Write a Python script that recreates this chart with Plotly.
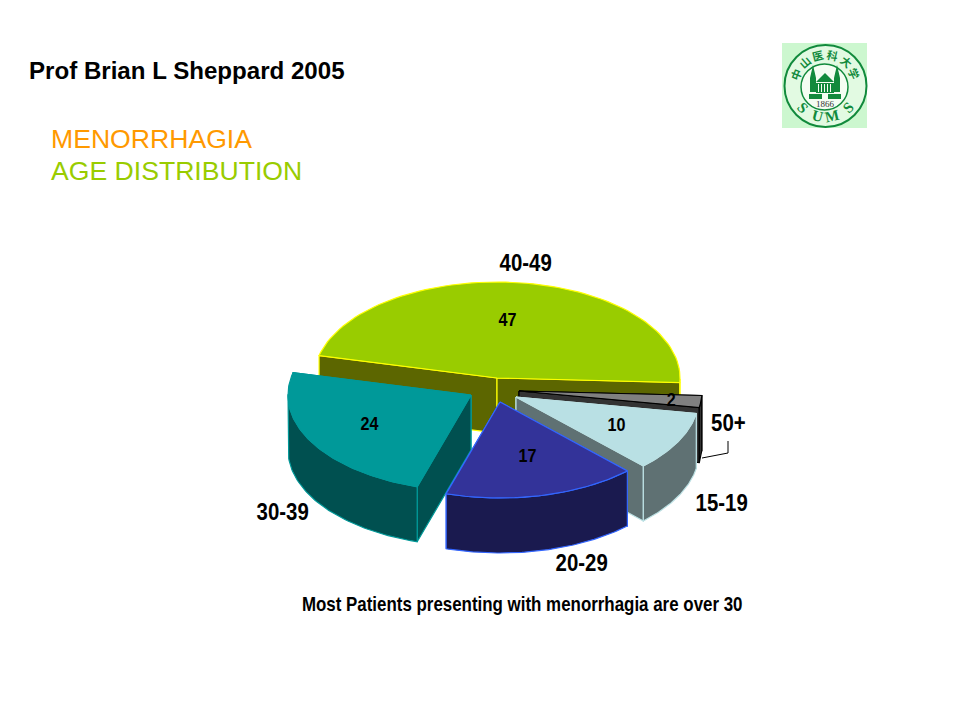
"""Menorrhagia age distribution: exploded 3D pie drawn on pixel-scale axes."""

import numpy as np
import plotly.graph_objects as go

CATEGORIES = ["40-49", "50+", "15-19", "20-29", "30-39"]
VALUES = [47, 2, 10, 17, 24]

# slice styling and explode offset, same order as CATEGORIES
TOP_COLORS = ["#99cc00", "#808080", "#b9e0e4", "#333399", "#009999"]
SIDE_COLORS = ["#5c6600", "#333333", "#5f7173", "#1a1a4f", "#005050"]
EDGE_COLORS = ["#ffff00", "#000000", "#bbe0e3", "#3366ff", "#009999"]
EXPLODE_X = [0, 22, 19, 3, -26]
EXPLODE_Y = [0, 13, 19, 24, 17]
DRAW_ORDER = [0, 1, 4, 2, 3]

# label positions
VALUE_X = [507, 671, 616, 527, 370]
VALUE_Y = [319, 399, 424, 455, 423]
NAME_X = [525, 728, 721, 581, 282]
NAME_Y = [262, 422, 502, 562, 511]

# pie geometry
CX, CY = 497, 378
RX, RY = 183, 96
DEPTH = 55
START_ANGLE = 166.5

FOOTER = "Most Patients presenting with menorrhagia are over 30"
SANS = "Liberation Sans, Arial"
LOGO_GREEN = "#118a3c"

fig = go.Figure()


def add_poly(xs, ys, fill, edge, width=1.2):
    fig.add_trace(go.Scatter(
        x=xs, y=ys, mode="lines", fill="toself", fillcolor=fill,
        line=dict(color=edge, width=width), hoverinfo="skip", showlegend=False,
    ))


def draw_slice(idx, a0, a1):
    ax, ay = CX + EXPLODE_X[idx], CY + EXPLODE_Y[idx]
    t = np.radians(np.linspace(a0, a1, 80))
    px = ax + RX * np.cos(t)
    py = ay - RY * np.sin(t)
    side, edge = SIDE_COLORS[idx], EDGE_COLORS[idx]
    # radial walls, back one first
    corners = sorted([(py[0], px[0]), (py[-1], px[-1])])
    for ey, ex in corners:
        add_poly([ax, ex, ex, ax, ax], [ay, ey, ey + DEPTH, ay + DEPTH, ay], side, edge)
    # outer wall, front part only
    front = np.sin(t) <= 0.02
    if front.any():
        fx, fy = px[front], py[front]
        add_poly(np.r_[fx, fx[::-1], fx[0]], np.r_[fy, fy[::-1] + DEPTH, fy[0]], side, edge)
    add_poly(np.r_[ax, px, ax], np.r_[ay, py, ay], TOP_COLORS[idx], edge)


def logo_rect(x0, y0, x1, y1, color=LOGO_GREEN):
    fig.add_shape(type="rect", x0=x0, y0=y0, x1=x1, y1=y1, fillcolor=color, line_width=0)


def logo_path(path, color=LOGO_GREEN):
    fig.add_shape(type="path", path=path, fillcolor=color, line_width=0)


fractions = np.array(VALUES) / sum(VALUES) * 360
ends = START_ANGLE - np.cumsum(fractions)
starts = ends + fractions
for i in DRAW_ORDER:
    draw_slice(i, starts[i], ends[i])

# leader line for the small slice
fig.add_trace(go.Scatter(
    x=[702, 728, 728], y=[458, 453, 441], mode="lines",
    line=dict(color="#000000", width=1), hoverinfo="skip", showlegend=False,
))

for x, y, v in zip(VALUE_X, VALUE_Y, VALUES):
    fig.add_annotation(x=x, y=y, text=str(v), showarrow=False,
                       font=dict(family=SANS, size=19, weight=700, color="#000000"))
for x, y, name in zip(NAME_X, NAME_Y, CATEGORIES):
    fig.add_annotation(x=x, y=y, text=name, showarrow=False,
                       font=dict(family=SANS, size=24, weight=700, color="#000000"))

fig.add_annotation(x=522, y=604, text=FOOTER, showarrow=False,
                   font=dict(family=SANS, size=19.9, weight=700, color="#000000"))
fig.add_annotation(x=27, y=70, xanchor="left", text="Prof Brian L Sheppard 2005", showarrow=False,
                   font=dict(family=SANS, size=24.1, weight=700, color="#000000"))
fig.add_annotation(x=49, y=138.5, xanchor="left", text="MENORRHAGIA", showarrow=False,
                   font=dict(family=SANS, size=26.6, color="#ff9900"))
fig.add_annotation(x=49, y=171, xanchor="left", text="AGE DISTRIBUTION", showarrow=False,
                   font=dict(family=SANS, size=26.6, color="#99cc00"))

# university seal, top right
LX, LY = 825.5, 86
fig.add_shape(type="rect", x0=782, y0=43, x1=867, y1=128, fillcolor="#ccf7cf", line_width=0)
fig.add_shape(type="circle", x0=LX - 41, y0=LY - 41, x1=LX + 41, y1=LY + 41,
              fillcolor="#e2fae2", line=dict(color=LOGO_GREEN, width=2))
fig.add_shape(type="circle", x0=801, y0=64, x1=848, y1=110,
              fillcolor="#f4fdf2", line=dict(color=LOGO_GREEN, width=1.5))
# towers, roof and body of the building
logo_path("M 813 65 L 816 78 L 816 92 L 810 92 L 810 78 Z")
logo_path("M 837 65 L 840 78 L 840 92 L 834 92 L 834 78 Z")
logo_path("M 816 82 L 825 73 L 834 82 Z")
logo_rect(816, 83, 834, 93)
for x in range(818, 833, 3):
    logo_rect(x, 84, x + 1, 92, "#f4fdf2")
logo_rect(809, 94, 841, 99)
logo_rect(822, 94, 828, 99, "#f4fdf2")

for i, ch in enumerate("中山医科大学"):
    ang = -68 + i * 27
    rad = np.radians(ang)
    fig.add_annotation(x=LX + 32 * np.sin(rad), y=LY - 32 * np.cos(rad), text=ch, textangle=ang,
                       showarrow=False, font=dict(family="Noto Sans CJK SC", size=11, weight=700, color=LOGO_GREEN))
for ch, ang in zip("SUMS", [-46, -15, 13, 46]):
    rad = np.radians(ang)
    fig.add_annotation(x=LX + 31 * np.sin(rad), y=LY + 31 * np.cos(rad), text=ch, textangle=-ang,
                       showarrow=False, font=dict(family="Liberation Serif", size=15, weight=700, color=LOGO_GREEN))
fig.add_annotation(x=825, y=104, text="1866", showarrow=False,
                   font=dict(family="Liberation Serif", size=9, color="#333333"))

fig.update_layout(
    width=960, height=720,
    margin=dict(l=0, r=0, t=0, b=0),
    paper_bgcolor="#ffffff", plot_bgcolor="#ffffff",
    xaxis=dict(range=[0, 960], visible=False, fixedrange=True),
    yaxis=dict(range=[720, 0], visible=False, fixedrange=True),
)

# the reference labels are a condensed bold face; squeeze them horizontally
narrow = [str(v) for v in VALUES] + CATEGORIES + [FOOTER]
post = """
document.body.style.margin = '0';
var narrow = %s;
document.querySelectorAll('.annotation-text').forEach(function (t) {
  if (narrow.indexOf(t.textContent) >= 0) {
    t.setAttribute('textLength', t.getComputedTextLength() * 0.85);
    t.setAttribute('lengthAdjust', 'spacingAndGlyphs');
  }
});
""" % narrow
fig.write_html("out.html", post_script=post, config={"displayModeBar": False})
